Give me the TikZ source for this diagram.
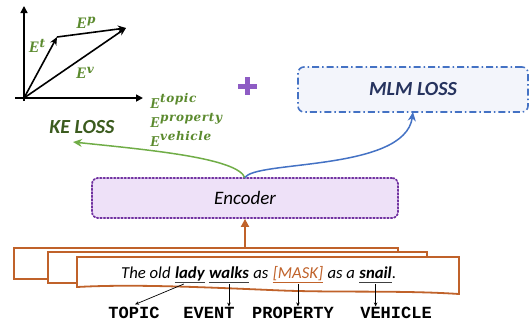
\documentclass[tikz,border=0pt]{standalone}
\usepackage{fontspec}
\setmainfont{Carlito}
\newfontfamily\serifE{Liberation Serif}
\newfontfamily\supfont[LetterSpace=5]{DejaVu Serif}
\newfontfamily\mono{Liberation Mono}
\usetikzlibrary{arrows.meta,calc}
\newcommand\esup[3]{\raisebox{#1}{\supfont\itshape\fontsize{#2}{#2}\selectfont #3}}
\definecolor{egreen}{HTML}{5B8A2E}
\definecolor{kegreen}{HTML}{3B5B1E}
\definecolor{arrgreen}{HTML}{70AD47}
\definecolor{arrblue}{HTML}{4472C4}
\definecolor{mlmtext}{HTML}{26335E}
\definecolor{mlmfill}{HTML}{F3F5FB}
\definecolor{encborder}{HTML}{7030A0}
\definecolor{encfill}{HTML}{EEE1F8}
\definecolor{orng}{HTML}{C0622A}
\definecolor{plum}{HTML}{8E5CC4}
\definecolor{ulgray}{HTML}{404040}
\tikzset{
  axis/.style={line width=1.6pt,-{Triangle[length=7pt,width=7pt]}},
  vec/.style={line width=1.6pt,-{Stealth[length=8pt,width=7pt]}},
  elabel/.style={text=egreen,font=\fontsize{16}{16}\selectfont\serifE\bfseries\itshape,inner sep=0pt},
  elist/.style={text=egreen,font=\fontsize{15}{15}\selectfont\serifE\bfseries\itshape,inner sep=0pt,anchor=base west},
  mlmbox/.style={draw=arrblue,fill=mlmfill,line width=1.6pt,dash pattern=on 7pt off 3pt on 1.5pt off 3pt,rounded corners=6pt,minimum width=230pt,minimum height=45pt,text=mlmtext,font=\fontsize{20}{20}\selectfont\bfseries\itshape},
  encbox/.style={draw=encborder,fill=encfill,line width=1.8pt,dash pattern=on 1.5pt off 2pt,line cap=round,rounded corners=6pt,minimum width=306pt,minimum height=40pt,font=\fontsize{19}{19}\selectfont\itshape},
  sbox/.style={draw=orng,fill=white,line width=1.8pt},
  word/.style={inner sep=0pt,anchor=base west,font=\fontsize{16.7}{16.7}\selectfont\itshape},
  ul/.style={line width=1.2pt,draw=ulgray},
  tag/.style={inner sep=0pt,anchor=base,font=\fontsize{17}{17}\selectfont\mono\bfseries},
  tagarrow/.style={line width=0.7pt,-{Stealth[length=4pt,width=3.5pt]}},
}
\begin{document}
\begin{tikzpicture}[x=1pt,y=-1pt]
\useasboundingbox (0,0) rectangle (529,325);
% axes and vectors
\coordinate (O) at (24,98);
\coordinate (ybot) at (24,101);
\coordinate (ytop) at (24,6);
\coordinate (xl) at (15,98);
\coordinate (xr) at (143,98);
\coordinate (T) at (57,37);
\coordinate (P) at (126,28);
\draw[axis] (ybot) -- (ytop);
\draw[axis] (xl) -- (xr);
\draw[vec] (O) -- (T);
\draw[vec] (T) -- (P);
\draw[vec] (O) -- (P);
\node[elabel] (Ep) at (86,23) {E\esup{5pt}{12}{p}};
\node[elabel] (Et) at (37,46) {E\esup{5pt}{12}{t}};
\node[elabel] (Ev) at (85,73) {E\esup{5pt}{12}{v}};
\node[elist] (Etop) at (150,108) {E\esup{6pt}{12}{topic}};
\node[elist] (Epro) at (150,127) {E\esup{6pt}{12}{property}};
\node[elist] (Eveh) at (150,146) {E\esup{6pt}{12}{vehicle}};
\node[text=kegreen,font=\fontsize{20}{20}\selectfont\bfseries\itshape,inner sep=0pt] (ke) at (82,127) {KE LOSS};
% plus
\draw[plum,line width=5pt] (238,86) -- (257,86);
\draw[plum,line width=5pt] (247.5,77) -- (247.5,95);
% boxes
\node[mlmbox] (mlm) at (413,89.5) {MLM LOSS};
\node[encbox] (enc) at (245,198) {Encoder};
\coordinate (split) at (245,178);
\coordinate (ketip) at (73,142);
\coordinate (mlmtip) at (413,112);
\draw[arrgreen,line width=1.5pt,-{Stealth[length=9pt,width=8pt]}] (split) .. controls (238,158) and (150,150) .. (ketip);
\draw[arrblue,line width=1.5pt,-{Stealth[length=9pt,width=8pt]}] (split) .. controls (252,160) and (405,172) .. (mlmtip);
% sentence boxes
\draw[sbox] (14,248) rectangle (398,279);
\draw[sbox] (48,252) rectangle (427,283);
\draw[sbox] (77,257) -- (459,257) -- (459,294) .. controls (400,290) and (330,293) .. (270,290) .. controls (200,287) and (130,284) .. (77,287) -- cycle;
\coordinate (sentop) at (245,248);
\draw[orng,line width=1.8pt,-{Triangle[length=8pt,width=8pt]}] (sentop) -- (enc.south);
% sentence words
\node[word] (w1) at (121,278) {The old};
\node[word] (lady) at ($(w1.base east)+(4,0)$) {\bfseries lady};
\node[word] (walks) at ($(lady.base east)+(4,0)$) {\bfseries walks};
\node[word] (w2) at ($(walks.base east)+(4,0)$) {as};
\node[word,text=orng] (mask) at ($(w2.base east)+(4,0)$) {[MASK]};
\node[word] (w3) at ($(mask.base east)+(4,0)$) {as a};
\node[word] (snail) at ($(w3.base east)+(4,0)$) {\bfseries snail};
\node[word] (dot) at (snail.base east) {.};
\draw[ul] ([yshift=-4.5pt]lady.base west) -- ([yshift=-4.5pt]lady.base east);
\draw[ul] ([yshift=-4.5pt]walks.base west) -- ([yshift=-4.5pt]walks.base east);
\draw[ul] ([yshift=-4.5pt]snail.base west) -- ([yshift=-4.5pt]snail.base east);
\draw[line width=1.2pt,draw=orng] ([yshift=-4.5pt]mask.base west) -- ([yshift=-4.5pt]mask.base east);
% tags
\node[tag] (topic) at (134,318) {TOPIC};
\node[tag] (event) at (209,318) {EVENT};
\node[tag] (prop) at (293,318) {PROPERTY};
\node[tag] (veh) at (396,318) {VEHICLE};
\coordinate (ladyfoot) at ([yshift=-6pt]$(lady.base west)!0.3!(lady.base east)$);
\coordinate (walksfoot) at ([yshift=-6pt]walks.base);
\coordinate (maskfoot) at ([yshift=-6pt]mask.base);
\coordinate (snailfoot) at ([yshift=-6pt]snail.base);
\draw[tagarrow] (ladyfoot) -- ([xshift=1pt,yshift=2pt]topic.north);
\draw[tagarrow] (walksfoot) -- (walksfoot |- event.north);
\draw[tagarrow] (maskfoot) -- (maskfoot |- prop.north);
\draw[tagarrow] (snailfoot) -- (snailfoot |- veh.north);
\end{tikzpicture}
\end{document}
